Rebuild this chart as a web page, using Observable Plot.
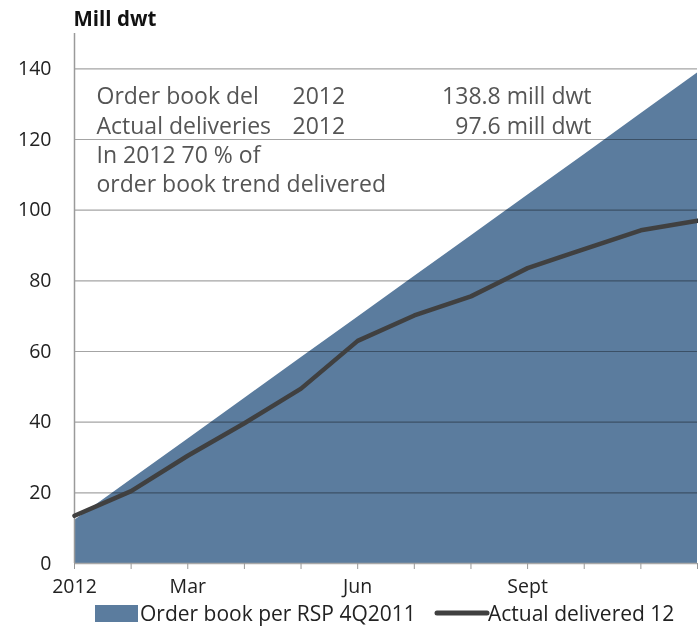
<!DOCTYPE html>
<html>
<head>
<meta charset="utf-8">
<script src="https://cdn.jsdelivr.net/npm/d3@7"></script>
<script src="https://cdn.jsdelivr.net/npm/@observablehq/plot@0.6"></script>
<style>
  html, body { margin: 0; padding: 0; background: #fff; }
  #chart svg { display: block; }
</style>
</head>
<body>
<div id="chart"></div>
<script>
// ---- data ----
const months = ["Jan","Feb","Mar","Apr","May","Jun","Jul","Aug","Sep","Oct","Nov","Dec"];
const monthLabels = ["2012","","Mar","","","Jun","","","Sept","","",""];
const orderBook = [12.2, 23.7, 35.2, 46.7, 58.2, 69.7, 81.2, 92.7, 104.2, 115.7, 127.3, 138.8];
const actualDelivered = [13.5, 20.5, 30.5, 39.7, 49.5, 63.0, 70.2, 75.6, 83.6, 89.0, 94.3, 97.0];
const yTicks = [0, 20, 40, 60, 80, 100, 120, 140];
const yTitle = "Mill dwt";
const noteCol1 = ["Order book del", "Actual deliveries", "In 2012 70 % of", "order book trend delivered"];
const noteCol2 = ["2012", "2012"];
const noteCol3 = ["138.8 mill dwt", "97.6 mill dwt"];
const seriesNames = ["Order book per RSP 4Q2011", "Actual delivered 12"];

const data = months.map((m, i) => ({i, month: m, order: orderBook[i], actual: actualDelivered[i]}));

const FONT = "'Open Sans', Lato, sans-serif";
const areaColor = "#5b7c9e";
const lineColor = "#404040";
const textColor = "#555555";

const noteDy = [63, 93, 122, 151];

const noteMarks = [];
noteCol1.forEach((t, i) => noteMarks.push(Plot.text([t], {frameAnchor: "top-left", dx: 22, dy: noteDy[i],
  textAnchor: "start", lineAnchor: "middle", fontSize: 23, fill: textColor})));
noteCol2.forEach((t, i) => noteMarks.push(Plot.text([t], {frameAnchor: "top-left", dx: 218, dy: noteDy[i],
  textAnchor: "start", lineAnchor: "middle", fontSize: 23, fill: textColor})));
noteCol3.forEach((t, i) => noteMarks.push(Plot.text([t], {frameAnchor: "top-left", dx: 517, dy: noteDy[i],
  textAnchor: "end", lineAnchor: "middle", fontSize: 23, fill: textColor})));

const chart = Plot.plot({
  width: 698,
  height: 629,
  marginLeft: 74,
  marginRight: 1,
  marginTop: 33,
  marginBottom: 66,
  style: {fontFamily: FONT, background: "#fff", overflow: "visible"},
  x: {type: "linear", domain: [0, 11]},
  y: {domain: [0, 150]},
  marks: [
    Plot.areaY(data, {x: "i", y: "order", fill: areaColor}),
    Plot.ruleY(yTicks.filter(d => d > 0), {stroke: "#a4a4a4", strokeWidth: 1.2, mixBlendMode: "multiply"}),
    Plot.ruleX([0], {y1: 0, y2: 150, stroke: "#9a9a9a", strokeWidth: 1.5}),
    Plot.ruleY([0], {stroke: "#a8a8a8", strokeWidth: 1.5}),
    Plot.lineY(data, {x: "i", y: "actual", stroke: lineColor, strokeWidth: 4.5, strokeLinejoin: "round"}),
    Plot.axisY({ticks: yTicks, tickSize: 0, tickPadding: 23, fontSize: 19.5, label: null, color: "#222"}),
    Plot.axisX({ticks: d3.range(12), tickSize: 6, tickPadding: 10, fontSize: 19.5, label: null,
      tickFormat: d => monthLabels[d], stroke: "#999", color: "#222"}),
    Plot.text([yTitle], {frameAnchor: "top-left", dy: -14, dx: -1, textAnchor: "start", lineAnchor: "middle",
      fontSize: 20.5, fontWeight: "bold", fill: "#111"}),
    ...noteMarks
  ]
});

// legend appended inside the same SVG
const svg = d3.select(chart);
const lg = svg.append("g").attr("font-family", FONT).attr("font-size", 21).attr("fill", "#222")
  .attr("text-anchor", "start");
lg.append("rect").attr("x", 95).attr("y", 605).attr("width", 43).attr("height", 17).attr("fill", areaColor);
lg.append("text").attr("x", 140).attr("y", 614).attr("dy", "0.35em").text(seriesNames[0]);
lg.append("line").attr("x1", 437).attr("x2", 487).attr("y1", 613).attr("y2", 613)
  .attr("stroke", lineColor).attr("stroke-width", 5).attr("stroke-linecap", "round");
lg.append("text").attr("x", 488).attr("y", 614).attr("dy", "0.35em").text(seriesNames[1]);

document.getElementById("chart").appendChild(chart);
</script>
</body>
</html>
